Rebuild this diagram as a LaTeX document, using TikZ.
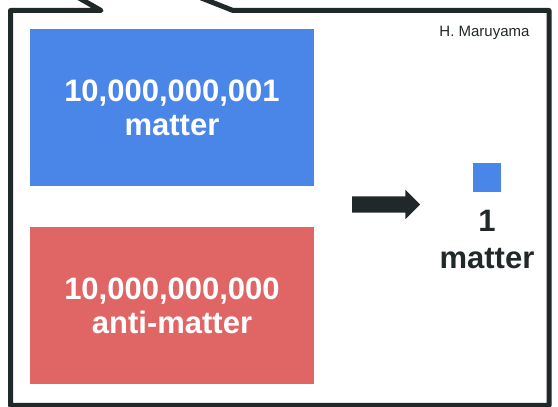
\documentclass[tikz,border=0pt]{standalone}
\usepackage{fontspec}
\setmainfont{Liberation Sans}
\usepackage{xcolor}
\usetikzlibrary{positioning,shapes.arrows}
\definecolor{slideblue}{HTML}{4A86E8}
\definecolor{slidered}{HTML}{E06666}
\definecolor{ink}{HTML}{212829}

\begin{document}
\begin{tikzpicture}[x=1pt,y=1pt,
   box/.style={minimum width=284pt,minimum height=157pt,inner sep=0pt,
     text=white,align=center,font=\bfseries\fontsize{31}{34}\selectfont},
   bigarrow/.style={single arrow,fill=ink,minimum height=68pt,minimum width=29pt,
     single arrow head extend=6.5pt,inner xsep=0pt,inner ysep=8pt}]
   \useasboundingbox (0,0) rectangle (558,407);
   \clip (0,0) rectangle (558,407);
   % speech bubble frame
   \draw[ink,line width=5pt,line join=round]
     (65,417) -- (101,396.5) -- (10.5,396.5) -- (10.5,1.5) -- (549,1.5)
     -- (549,396.5) -- (233,396.5) -- (181,417);
   \node[anchor=base east,text=ink,font=\fontsize{15}{17}\selectfont] (author) at (533,370) {H. Maruyama};
   \node[box,fill=slideblue] (matter) at (172,299.5) {10,000,000,001\\matter};
   \node[box,fill=slidered] (anti) at (172,101.5) {10,000,000,000\\anti-matter};
   \node[bigarrow] (arrow) at (382,202.5) {};
   \node[fill=slideblue,minimum width=28pt,minimum height=29pt,inner sep=0pt] (rest) at (487,229.5) {};
   \node[below=18pt of rest,inner sep=0pt,text=ink,align=center,
     font=\bfseries\fontsize{31}{37}\selectfont] (one) {1\\matter};
\end{tikzpicture}
\end{document}
